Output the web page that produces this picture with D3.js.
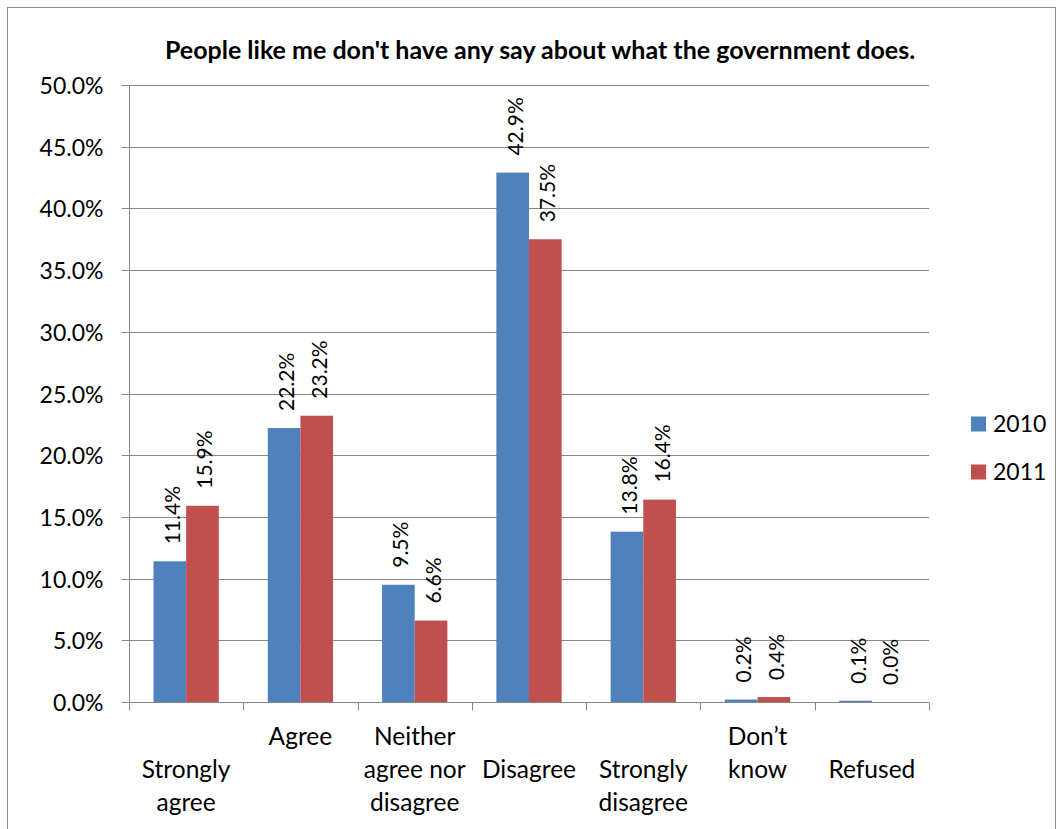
<!DOCTYPE html>
<html><head><meta charset="utf-8">
<script src="https://cdn.jsdelivr.net/npm/d3@7"></script>
<style>body{margin:0;background:#fff}text{font-family:Lato,"Open Sans",sans-serif}</style>
</head><body>
<svg id="c" width="1058" height="829"></svg>
<script>
const categories = ["Strongly agree","Agree","Neither agree nor disagree","Disagree","Strongly disagree","Don\u2019t know","Refused"];
const labelLines = [["Strongly","agree"],["Agree"],["Neither","agree nor","disagree"],["Disagree"],["Strongly","disagree"],["Don\u2019t","know"],["Refused"]];
const labelStartRow = [1,0,0,1,1,0,1];
const series = ["2010","2011"];
const values2010 = [11.4,22.2,9.5,42.9,13.8,0.2,0.1];
const values2011 = [15.9,23.2,6.6,37.5,16.4,0.4,0.0];
const yTicks = [0,5,10,15,20,25,30,35,40,45,50];
const colors = ["#4F81BD","#C0504D"];
const title = "People like me don't have any say about what the government does.";

const svg = d3.select("#c");
svg.append("rect").attr("x",7.5).attr("y",7.5).attr("width",1048).attr("height",830).attr("fill","#fff").attr("stroke","#8c8c8c").attr("stroke-width",1);

const L=129,R=929,T=85,B=702;
const x = d3.scaleBand().domain(categories).range([L,R]).paddingInner(0).paddingOuter(0);
const bw = x.bandwidth()/3.5;
const x1 = d3.scaleBand().domain(series).range([0,2*bw]);
const y = d3.scaleLinear().domain([0,50]).range([B,T]);

// gridlines
svg.append("g").selectAll("line").data(yTicks.filter(d=>d>0)).join("line")
  .attr("x1",L).attr("x2",R).attr("y1",d=>Math.round(y(d))+0.5).attr("y2",d=>Math.round(y(d))+0.5)
  .attr("stroke","#868686").attr("stroke-width",1);

// bars
const data = categories.map((c,i)=>({c,vals:[values2010[i],values2011[i]]}));
const g = svg.append("g");
data.forEach(d=>{
  const off = x(d.c) + (x.bandwidth()-2*bw)/2;
  d.vals.forEach((v,j)=>{
    g.append("rect").attr("x",off+x1(series[j])).attr("width",bw)
      .attr("y",y(v)).attr("height",B-y(v)).attr("fill",colors[j]);
    const cx = off+x1(series[j])+bw/2;
    g.append("text").attr("transform",`translate(${cx+10},${y(v)-17}) rotate(-90)`)
      .attr("font-size",21).attr("fill","#000").text(v.toFixed(1)+"%");
  });
});

// y axis
const ya = svg.append("g").attr("transform",`translate(${L+0.5},0)`)
  .call(d3.axisLeft(y).tickValues(yTicks).tickSize(8).tickPadding(18).tickFormat(d=>d.toFixed(1)+"%"));
ya.select(".domain").attr("stroke","#868686").attr("d",`M-8,${T+0.5}H0V${B+0.5}`);
ya.selectAll(".tick line").attr("stroke","#868686");
ya.selectAll(".tick text").attr("font-size",23).attr("fill","#000").attr("font-family","Lato,'Open Sans',sans-serif").attr("dy","0.35em");
ya.selectAll(".tick").attr("transform",d=>`translate(0,${Math.round(y(d))+0.5})`);

// x axis
const xa = svg.append("g").attr("transform",`translate(0,${B+0.5})`);
xa.append("line").attr("x1",L).attr("x2",R).attr("stroke","#868686");
const tickX = categories.map(c=>x(c)).concat([R]);
xa.selectAll("line.t").data(tickX).join("line").attr("class","t")
  .attr("x1",d=>Math.round(d)+0.5).attr("x2",d=>Math.round(d)+0.5).attr("y1",0).attr("y2",8).attr("stroke","#868686");

const rows = [736,769,802];
categories.forEach((c,i)=>{
  const cx = x(c)+x.bandwidth()/2;
  labelLines[i].forEach((ln,k)=>{
    svg.append("text").attr("x",cx).attr("y",rows[labelStartRow[i]+k]).attr("dy","0.35em")
      .attr("text-anchor","middle").attr("font-size",24.5).attr("fill","#000").text(ln);
  });
});

// title
svg.append("text").attr("x",540).attr("y",50).attr("dy","0.35em").attr("text-anchor","middle")
  .attr("font-size",25).attr("font-weight","bold").attr("fill","#000").text(title);

// legend
series.forEach((s,j)=>{
  const ly = 424 + j*48;
  svg.append("rect").attr("x",971).attr("y",ly-7.5).attr("width",15).attr("height",15).attr("fill",colors[j]);
  svg.append("text").attr("x",993).attr("y",ly).attr("dy","0.35em").attr("font-size",23).attr("fill","#000").text(s);
});
</script>
</body></html>
